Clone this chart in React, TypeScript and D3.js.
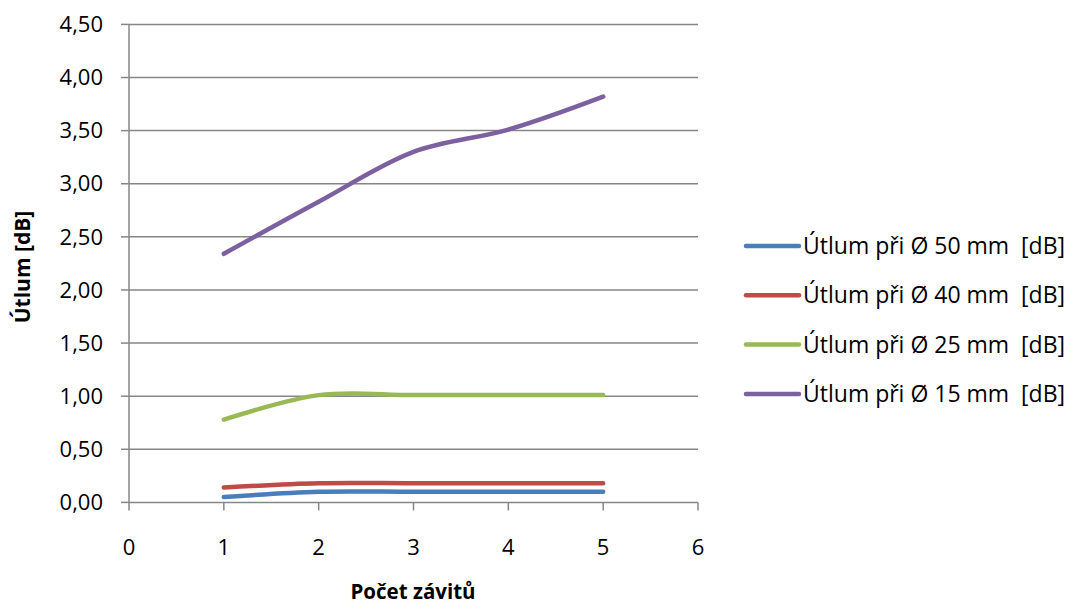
import React from "react";
import * as d3 from "d3";

const xValues = [1, 2, 3, 4, 5];
const seriesNames = [
  "Útlum při Ø 50 mm  [dB]",
  "Útlum při Ø 40 mm  [dB]",
  "Útlum při Ø 25 mm  [dB]",
  "Útlum při Ø 15 mm  [dB]",
];
const blue50 = [0.05, 0.1, 0.1, 0.1, 0.1];
const red40 = [0.14, 0.18, 0.18, 0.18, 0.18];
const green25 = [0.78, 1.01, 1.01, 1.01, 1.01];
const purple15 = [2.34, 2.83, 3.3, 3.51, 3.82];
const seriesColors = ["#4a7ebb", "#be4b48", "#98b954", "#7d60a0"];
const yTicks = [0, 0.5, 1, 1.5, 2, 2.5, 3, 3.5, 4, 4.5];
const xTicks = [0, 1, 2, 3, 4, 5, 6];
const yTitle = "Útlum [dB]";
const xTitle = "Počet závitů";

const W = 1070;
const H = 606;
const left = 129;
const right = 698;
const top = 24.4;
const bottom = 502.4;
const FONT = "'Open Sans', sans-serif";

export default function App() {
  const x = d3.scaleLinear().domain([0, 6]).range([left, right]);
  const y = d3.scaleLinear().domain([0, 4.5]).range([bottom, top]);
  const all = [blue50, red40, green25, purple15];
  const line = d3
    .line<number>()
    .x((_, i) => x(xValues[i]))
    .y((d) => y(d))
    .curve(d3.curveCatmullRom.alpha(0.5));
  const fmt = (v: number) => v.toFixed(2).replace(".", ",");
  const grid = "#868686";
  return (
    <svg
      width={W}
      height={H}
      style={{ position: "absolute", left: 0, top: 0, display: "block", background: "#fff" }}
      fontFamily={FONT}
    >
      {yTicks.map((t) => (
        <g key={"y" + t}>
          {t > 0 && (
            <line x1={left} x2={right} y1={y(t)} y2={y(t)} stroke={grid} strokeWidth={1.5} />
          )}
          <line x1={left - 8} x2={left} y1={y(t)} y2={y(t)} stroke={grid} strokeWidth={1.5} />
          <text x={103} y={y(t)} dy="0.35em" textAnchor="end" fontSize={22} fill="#000">
            {fmt(t)}
          </text>
        </g>
      ))}
      <line x1={left} x2={left} y1={top} y2={bottom} stroke={grid} strokeWidth={1.5} />
      <line x1={left} x2={right} y1={bottom} y2={bottom} stroke={grid} strokeWidth={1.5} />
      {xTicks.map((t) => (
        <g key={"x" + t}>
          <line x1={x(t)} x2={x(t)} y1={bottom} y2={bottom + 8} stroke={grid} strokeWidth={1.5} />
          <text x={x(t)} y={547} dy="0.35em" textAnchor="middle" fontSize={22} fill="#000">
            {t}
          </text>
        </g>
      ))}
      {all.map((s, i) => (
        <path
          key={"s" + i}
          d={line(s) || ""}
          fill="none"
          stroke={seriesColors[i]}
          strokeWidth={4.5}
          strokeLinecap="round"
          strokeLinejoin="round"
        />
      ))}
      <text
        transform={`translate(23,267) rotate(-90)`}
        textAnchor="middle"
        dy="0.35em"
        fontSize={21}
        fontWeight="bold"
        fill="#000"
      >
        {yTitle}
      </text>
      <text x={413} y={599} textAnchor="middle" fontSize={20.5} fontWeight="bold" fill="#000">
        {xTitle}
      </text>
      {seriesNames.map((n, i) => {
        const ly = 246 + i * 49.3;
        return (
          <g key={"l" + i}>
            <line x1={746} x2={799} y1={ly} y2={ly} stroke={seriesColors[i]} strokeWidth={4.5} strokeLinecap="round" />
            <text x={803} y={ly} dy="0.35em" fontSize={23} fill="#000" style={{ whiteSpace: "pre" }}>
              {n}
            </text>
          </g>
        );
      })}
    </svg>
  );
}
